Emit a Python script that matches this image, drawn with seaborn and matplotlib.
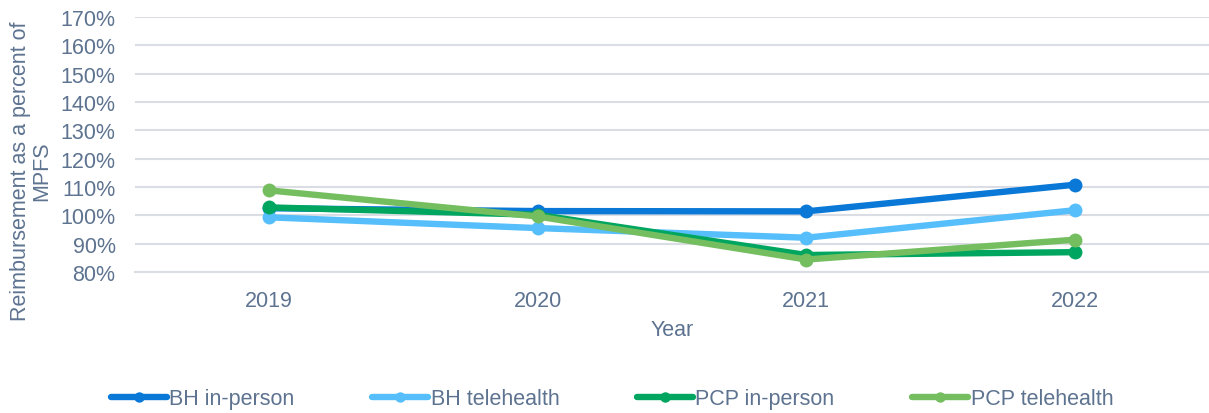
import pandas as pd
import matplotlib.pyplot as plt
import seaborn as sns
from matplotlib.ticker import PercentFormatter

sns.set_style("white")
plt.rcParams['font.family'] = ['Liberation Sans', 'DejaVu Sans']

# Datos
years = ['2019', '2020', '2021', '2022']
bh_in_person = [1.025, 1.015, 1.014, 1.108]
bh_telehealth = [0.993, 0.955, 0.921, 1.018]
pcp_in_person = [1.028, 1.002, 0.860, 0.870]
pcp_telehealth = [1.088, 0.996, 0.844, 0.914]

series = ['BH in-person', 'BH telehealth', 'PCP in-person', 'PCP telehealth']
colores = ['#0A78D6', '#55BEFB', '#00A65F', '#74BE60']
texto = '#5D7390'
grid = '#DADDE4'

df = pd.DataFrame({
    'Year': years * 4,
    'Value': bh_in_person + bh_telehealth + pcp_in_person + pcp_telehealth,
    'Serie': [s for s in series for _ in years],
})

fig = plt.figure(figsize=(12.09, 4.14), dpi=100)
ax = fig.add_axes([135 / 1209, 1 - 273 / 414, 1 - 135 / 1209, 255 / 414])

sns.lineplot(data=df, x='Year', y='Value', hue='Serie', palette=colores,
             marker='o', markersize=10, markeredgewidth=0, linewidth=4.6,
             ax=ax, legend=True)

ax.set_xlim(-0.5, 3.5)
ax.set_ylim(0.8, 1.7)
ax.set_yticks([0.8 + 0.1 * i for i in range(10)])
ax.yaxis.set_major_formatter(PercentFormatter(1.0, decimals=0))
ax.yaxis.grid(True, color=grid, linewidth=1.5)
ax.set_axisbelow(True)
for s in ['top', 'right', 'left']:
    ax.spines[s].set_visible(False)
ax.spines['bottom'].set_color(grid)
ax.spines['bottom'].set_linewidth(1.5)
ax.tick_params(axis='both', length=0, labelsize=15.5, colors=texto)
ax.tick_params(axis='y', pad=14)
ax.tick_params(axis='x', pad=13)

ax.set_xlabel('Year', fontsize=15.5, color=texto, labelpad=6)
ax.set_ylabel('')
fig.text(31 / 1209, 1 - 171 / 414, 'Reimbursement as a percent of\nMPFS',
         rotation=90, ha='center', va='center', fontsize=15.5, color=texto,
         linespacing=1.0, multialignment='center')

handles, labels = ax.get_legend_handles_labels()
leg = ax.legend(handles, labels, loc='center', bbox_to_anchor=(612 / 1209, 1 - 400 / 414),
                bbox_transform=fig.transFigure, ncol=4, frameon=False, fontsize=15.5,
                labelcolor=texto, handlelength=2.6, handletextpad=0.12, columnspacing=3.6)
for h in leg.legend_handles:
    h.set_markersize(7.5)

plt.savefig('out.png', dpi=100)
